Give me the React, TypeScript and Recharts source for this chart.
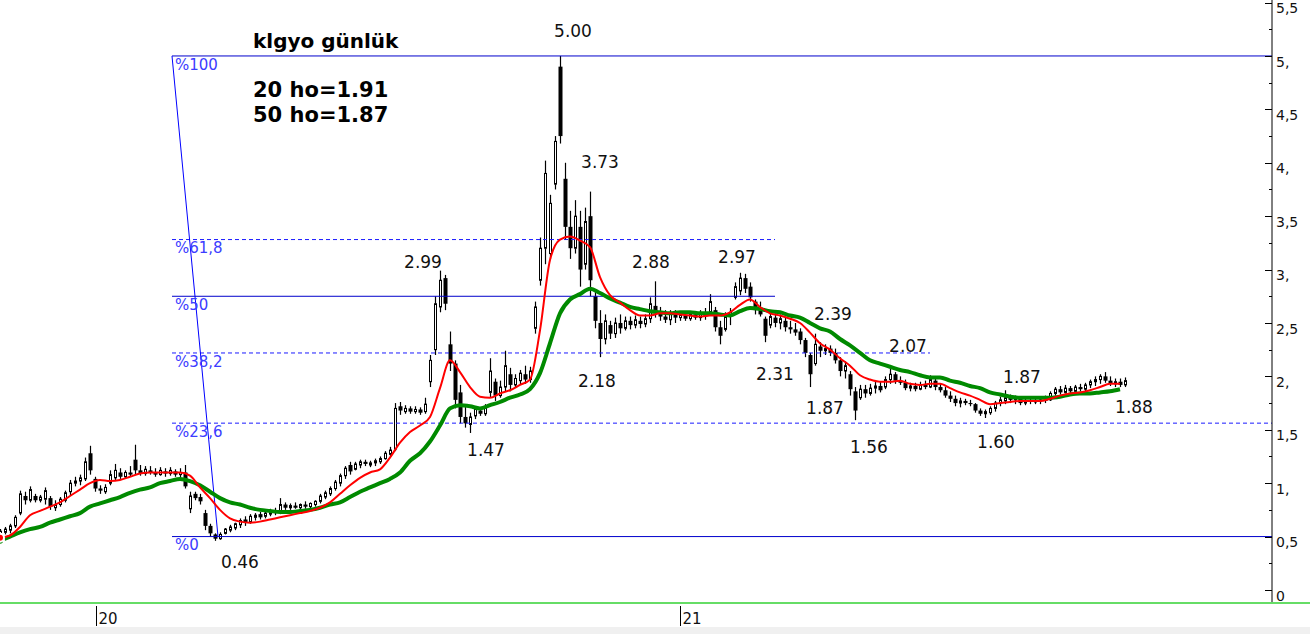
import React from 'react';
import { ComposedChart, Bar, Line, XAxis, YAxis, ReferenceLine, ReferenceDot } from 'recharts';

// ---- daily price bars (one bar per two sessions) ----
const lows = [
  0.50,0.52,0.53,0.58,0.70,0.80,0.82,0.82,0.82,0.80,
  0.75,0.74,0.78,0.82,0.88,0.97,0.98,1.02,1.08,0.92,
  0.90,0.90,0.98,1.03,1.04,1.04,1.06,1.08,1.07,1.07,
  1.08,1.06,1.07,1.06,1.07,1.06,1.05,0.95,0.72,0.84,
  0.80,0.56,0.50,0.46,0.47,0.52,0.54,0.56,0.58,0.60,
  0.62,0.65,0.66,0.67,0.69,0.70,0.71,0.75,0.75,0.76,
  0.75,0.76,0.76,0.78,0.81,0.85,0.88,0.93,0.97,1.04,
  1.08,1.12,1.14,1.16,1.15,1.16,1.18,1.22,1.25,1.30,
  1.64,1.65,1.65,1.65,1.64,1.65,1.90,2.20,2.60,2.62,
  2.05,1.70,1.56,1.52,1.47,1.60,1.63,1.63,1.80,1.77,
  1.80,1.86,1.86,1.90,1.92,1.93,1.94,2.40,2.85,3.05,
  3.10,3.75,4.18,3.28,3.10,3.15,2.84,3.00,2.75,2.45,
  2.18,2.30,2.35,2.36,2.40,2.43,2.44,2.45,2.45,2.46,
  2.50,2.55,2.52,2.50,2.48,2.50,2.52,2.52,2.52,2.53,
  2.52,2.53,2.58,2.42,2.30,2.42,2.48,2.72,2.76,2.78,
  2.70,2.58,2.56,2.32,2.45,2.46,2.44,2.42,2.40,2.38,
  2.30,2.18,1.90,2.10,2.18,2.20,2.19,2.12,2.00,1.98,
  1.82,1.59,1.78,1.80,1.82,1.84,1.85,1.88,1.93,1.93,
  1.92,1.87,1.86,1.86,1.87,1.88,1.89,1.87,1.85,1.80,
  1.76,1.72,1.71,1.73,1.72,1.66,1.63,1.61,1.64,1.67,
  1.72,1.74,1.75,1.74,1.73,1.73,1.74,1.74,1.74,1.75,
  1.77,1.82,1.83,1.84,1.84,1.85,1.86,1.86,1.89,1.91,
  1.93,1.94,1.91,1.90,1.90,1.90,
];
const highs = [
  0.57,0.59,0.62,0.70,0.93,0.92,0.97,0.90,0.89,0.96,
  0.88,0.84,0.87,0.93,1.03,1.06,1.08,1.24,1.35,1.06,
  0.98,0.99,1.12,1.18,1.14,1.12,1.16,1.36,1.17,1.16,
  1.16,1.14,1.15,1.14,1.15,1.13,1.14,1.17,0.92,0.92,
  0.90,0.75,0.62,0.53,0.54,0.58,0.61,0.63,0.67,0.69,
  0.71,0.72,0.73,0.74,0.76,0.77,0.86,0.82,0.81,0.82,
  0.81,0.83,0.82,0.84,0.90,0.93,0.97,1.03,1.09,1.16,
  1.20,1.20,1.22,1.22,1.21,1.23,1.25,1.30,1.34,1.75,
  1.76,1.73,1.72,1.72,1.71,1.80,2.20,2.75,2.99,2.95,
  2.42,2.15,1.92,1.72,1.66,1.72,1.71,1.74,2.17,1.98,
  1.96,2.24,2.08,2.02,2.06,2.10,2.09,2.70,3.30,4.02,
  3.70,4.25,5.00,4.00,3.55,3.65,3.55,3.58,3.73,2.80,
  2.62,2.58,2.52,2.55,2.58,2.56,2.56,2.57,2.56,2.58,
  2.74,2.89,2.65,2.62,2.62,2.62,2.60,2.60,2.61,2.61,
  2.62,2.64,2.77,2.65,2.52,2.60,2.64,2.88,2.97,2.96,
  2.88,2.72,2.70,2.56,2.60,2.59,2.58,2.55,2.52,2.50,
  2.45,2.36,2.22,2.40,2.32,2.30,2.29,2.26,2.18,2.14,
  2.05,1.90,1.92,1.92,1.93,1.95,1.95,2.00,2.07,2.04,
  2.00,1.97,1.94,1.94,1.95,1.96,2.01,1.98,1.93,1.90,
  1.86,1.82,1.80,1.79,1.78,1.75,1.70,1.69,1.72,1.77,
  1.81,1.87,1.83,1.82,1.80,1.79,1.80,1.79,1.81,1.82,
  1.86,1.90,1.91,1.92,1.91,1.92,1.93,1.94,1.97,2.00,
  2.02,2.04,2.00,1.98,1.98,1.99,
];
const opens = [
  0.52,0.54,0.56,0.60,0.72,0.88,0.84,0.88,0.84,0.85,
  0.86,0.77,0.80,0.84,0.92,1.00,1.02,1.04,1.28,1.04,
  0.95,0.92,1.00,1.05,1.10,1.06,1.10,1.22,1.12,1.09,
  1.12,1.10,1.08,1.11,1.09,1.11,1.08,1.10,0.76,0.90,
  0.87,0.72,0.60,0.52,0.48,0.53,0.56,0.58,0.61,0.66,
  0.64,0.68,0.71,0.69,0.71,0.74,0.73,0.80,0.77,0.79,
  0.77,0.80,0.78,0.80,0.83,0.87,0.90,0.95,1.00,1.07,
  1.17,1.13,1.17,1.20,1.17,1.19,1.20,1.23,1.27,1.32,
  1.72,1.67,1.70,1.67,1.69,1.67,1.95,2.25,2.65,2.92,
  2.30,2.12,1.85,1.62,1.55,1.63,1.68,1.65,1.85,1.95,
  1.82,1.90,2.02,1.92,1.96,2.02,1.97,2.45,2.90,3.20,
  3.15,3.80,4.90,3.85,3.40,3.20,3.40,3.05,3.50,2.75,
  2.50,2.35,2.48,2.40,2.50,2.45,2.52,2.48,2.52,2.49,
  2.54,2.66,2.60,2.56,2.53,2.58,2.55,2.57,2.54,2.58,
  2.55,2.59,2.60,2.62,2.46,2.44,2.56,2.74,2.80,2.92,
  2.84,2.70,2.62,2.54,2.48,2.55,2.50,2.52,2.46,2.44,
  2.42,2.34,2.20,2.12,2.28,2.24,2.26,2.22,2.15,2.05,
  2.02,1.86,1.80,1.88,1.84,1.89,1.91,1.90,1.97,2.02,
  1.96,1.94,1.89,1.91,1.88,1.92,1.90,1.96,1.90,1.87,
  1.82,1.79,1.75,1.77,1.75,1.74,1.68,1.65,1.66,1.70,
  1.75,1.77,1.80,1.78,1.79,1.75,1.77,1.76,1.77,1.78,
  1.78,1.84,1.88,1.85,1.89,1.86,1.90,1.88,1.92,1.95,
  1.97,2.00,1.96,1.93,1.95,1.92,
];
const closes = [
  0.55,0.57,0.60,0.68,0.90,0.84,0.94,0.84,0.87,0.93,
  0.78,0.80,0.85,0.91,1.00,1.02,1.05,1.20,1.12,0.95,
  0.93,0.96,1.08,1.12,1.06,1.10,1.08,1.12,1.09,1.13,
  1.10,1.08,1.12,1.09,1.12,1.08,1.10,0.97,0.88,0.86,
  0.83,0.60,0.53,0.48,0.52,0.57,0.59,0.62,0.65,0.63,
  0.69,0.70,0.68,0.72,0.74,0.72,0.80,0.77,0.79,0.77,
  0.80,0.78,0.81,0.83,0.88,0.91,0.95,1.01,1.07,1.14,
  1.11,1.18,1.20,1.18,1.19,1.21,1.23,1.28,1.31,1.70,
  1.68,1.70,1.67,1.69,1.66,1.74,2.15,2.68,2.90,2.68,
  2.12,1.78,1.62,1.56,1.62,1.69,1.65,1.70,2.05,1.82,
  1.90,2.10,1.92,1.98,2.03,1.97,2.05,2.65,3.20,3.90,
  3.62,4.20,4.25,3.40,3.20,3.50,3.00,3.45,2.90,2.52,
  2.35,2.52,2.40,2.50,2.45,2.52,2.48,2.53,2.49,2.54,
  2.68,2.60,2.56,2.53,2.58,2.55,2.57,2.54,2.58,2.55,
  2.59,2.56,2.70,2.46,2.38,2.56,2.60,2.84,2.92,2.82,
  2.74,2.62,2.58,2.38,2.56,2.50,2.54,2.46,2.44,2.41,
  2.34,2.22,2.02,2.30,2.24,2.26,2.22,2.15,2.05,2.10,
  1.88,1.68,1.88,1.84,1.89,1.91,1.87,1.97,2.02,1.96,
  1.94,1.89,1.91,1.88,1.92,1.90,1.97,1.90,1.87,1.82,
  1.79,1.75,1.77,1.75,1.74,1.68,1.65,1.67,1.70,1.75,
  1.78,1.80,1.78,1.79,1.75,1.77,1.76,1.77,1.78,1.77,
  1.84,1.88,1.85,1.89,1.86,1.90,1.88,1.92,1.95,1.97,
  2.00,1.96,1.93,1.95,1.92,1.96,
];

// ---- moving averages, sampled on every second bar ----
const ma20 = [
  0.49,0.51,0.59,0.70,0.74,0.78,0.82,0.88,0.94,1.00,
  1.03,1.02,1.03,1.06,1.09,1.10,1.10,1.10,1.10,1.07,
  0.96,0.86,0.75,0.67,0.64,0.63,0.64,0.66,0.68,0.70,
  0.72,0.74,0.77,0.82,0.90,0.98,1.05,1.10,1.13,1.24,
  1.38,1.48,1.54,1.62,1.89,2.15,2.04,1.90,1.81,1.80,
  1.84,1.87,1.92,1.97,2.43,3.09,3.28,3.31,3.27,3.21,
  2.93,2.76,2.69,2.62,2.57,2.57,2.59,2.59,2.58,2.57,
  2.56,2.57,2.57,2.60,2.67,2.72,2.65,2.59,2.57,2.54,
  2.50,2.41,2.31,2.25,2.17,2.10,2.01,1.97,1.95,1.95,
  1.96,1.93,1.92,1.93,1.93,1.89,1.85,1.82,1.78,1.74,
  1.75,1.76,1.77,1.77,1.77,1.79,1.82,1.84,1.85,1.87,
  1.90,1.93,1.93,
];
const ma50 = [
  0.46,0.50,0.54,0.57,0.59,0.63,0.66,0.69,0.72,0.78,
  0.81,0.84,0.87,0.91,0.94,0.96,1.00,1.02,1.04,1.02,
  0.98,0.92,0.86,0.82,0.80,0.77,0.75,0.74,0.73,0.73,
  0.74,0.75,0.77,0.80,0.82,0.87,0.92,0.96,1.00,1.04,
  1.10,1.21,1.28,1.39,1.54,1.70,1.73,1.72,1.70,1.73,
  1.76,1.80,1.83,1.88,2.03,2.31,2.59,2.72,2.77,2.82,
  2.78,2.73,2.69,2.65,2.63,2.61,2.60,2.59,2.60,2.60,
  2.59,2.59,2.58,2.57,2.61,2.64,2.63,2.61,2.60,2.57,
  2.55,2.50,2.45,2.42,2.35,2.29,2.22,2.15,2.12,2.09,
  2.06,2.04,2.01,1.99,1.99,1.96,1.94,1.91,1.89,1.85,
  1.83,1.81,1.80,1.80,1.80,1.80,1.81,1.83,1.84,1.84,
  1.85,1.86,1.88,
];

// ---- axis ticks ----
const yTicks = [0,0.25,0.5,0.75,1,1.25,1.5,1.75,2,2.25,2.5,2.75,3,3.25,3.5,3.75,4,4.25,4.5,4.75,5,5.25,5.5];
const yearTicks = [19.2, 136];
const yearLabels = ['20', '21'];

// ---- fibonacci retracement ----
const fibLow = 0.5;
const fibHigh = 5.0;
const fibPcts = [100, 61.8, 50, 38.2, 23.6, 0];
const fibLabels = ['%100', '%61,8', '%50', '%38,2', '%23,6', '%0'];

// ---- price annotations ----
const noteTexts = ['5.00','3.73','2.99','2.88','2.97','2.39','2.07','2.31','1.87','1.88','1.87','1.47','1.56','1.60','2.18','0.46'];

// layout (chart coordinates of the annotations / fib line extents)
const notePos = [
  [114.6,5.23],[120,4.01],[84.6,3.07],[130.2,3.07],[147.4,3.12],[166.6,2.58],[181.6,2.28],[155,2.02],
  [204.4,1.99],[226.8,1.71],[165,1.70],[97.2,1.31],[173.8,1.34],[199.2,1.39],[119.4,1.96],[48,0.26],
];
const fibStart = 34.4;
const fibEnds = [254.4, 155, 155, 186, 254.4, 254.4];
const fibDashed = [false, true, false, true, true, false];

const FONT = 'DejaVu Sans, Verdana, sans-serif';
const W = 1310;
const H = 634;
const X_MAX = 254.4;

const data = lows.map((lo, k) => ({
  k,
  lo,
  hi: highs[k],
  o: opens[k],
  c: closes[k],
  ma20: k % 2 === 0 ? ma20[k / 2] : undefined,
  ma50: k % 2 === 0 ? ma50[k / 2] : undefined,
}));

const Candle = (props: any) => {
  const { x, y, width, height, payload } = props;
  if (x == null || y == null || !payload) return null;
  const { lo, hi, o, c } = payload;
  const top = Math.min(y, y + height);
  const h = Math.abs(height);
  const s = hi - lo > 0 ? h / (hi - lo) : 0;
  const cx = Math.round(x + width / 2) + 0.5;
  const yo = top + (hi - o) * s;
  const yc = top + (hi - c) * s;
  const bt = Math.min(yo, yc);
  const bh = Math.max(1, Math.abs(yc - yo));
  const up = c > o;
  return (
    <g>
      <line x1={cx} x2={cx} y1={top} y2={top + Math.max(h, 1)} stroke="#000" strokeWidth={1.2} />
      {up ? (
        <rect x={cx - 1} y={bt} width={2} height={bh} fill="#fff" stroke="#000" strokeWidth={1} />
      ) : (
        <rect x={cx - 2} y={bt} width={4} height={bh} fill="#000" />
      )}
    </g>
  );
};

const fmtY = (v: number) => {
  if (v === 0) return '0';
  const whole = Math.floor(v + 1e-9);
  const half = Math.abs(v - whole - 0.5) < 1e-6;
  return half ? `${whole},5` : `${whole},`;
};

const YTick = (props: any) => {
  const { x, y, payload } = props;
  const v = payload.value;
  const major = Math.abs(v * 2 - Math.round(v * 2)) < 1e-6;
  const ax = x;
  return (
    <g>
      <line x1={ax - (major ? 7 : 3)} x2={ax} y1={Math.round(y) + 0.5} y2={Math.round(y) + 0.5} stroke="#000" />
      {major && (
        <text x={ax + 4} y={y} dy="0.76em" fontSize={14} fontFamily={FONT} fill="#111">
          {fmtY(v)}
        </text>
      )}
    </g>
  );
};

const XTick = (props: any) => {
  const { x, y, payload, index } = props;
  const px = Math.round(x) + 0.5;
  return (
    <g>
      <line x1={px} x2={px} y1={y + 3} y2={y + 23} stroke="#000" />
      <text x={px + 2} y={y + 21} fontSize={15} fontFamily={FONT} fill="#111">
        {yearLabels[index] ?? String(payload.value)}
      </text>
    </g>
  );
};

export default function App() {
  return (
    <div style={{ position: 'absolute', left: 0, top: 0, width: W, height: H, background: '#fff', overflow: 'hidden' }}>
      <ComposedChart width={W} height={H} data={data} margin={{ top: 0, right: 0, bottom: 0, left: 0 }}>
        <XAxis
          dataKey="k"
          type="number"
          domain={[0, X_MAX]}
          allowDataOverflow
          ticks={yearTicks}
          interval={0}
          height={31}
          axisLine={false}
          tickLine={false}
          tickSize={0}
          tickMargin={0}
          tick={<XTick />}
        />
        <YAxis
          orientation="right"
          type="number"
          domain={[-0.122, 5.524]}
          allowDataOverflow
          ticks={yTicks}
          interval={0}
          width={38}
          axisLine={{ stroke: '#000' }}
          tickLine={false}
          tickSize={0}
          tickMargin={0}
          tick={<YTick />}
        />
        {fibPcts.map((p, i) => {
          const lvl = fibLow + (p / 100) * (fibHigh - fibLow);
          return (
            <ReferenceLine
              key={'fib' + i}
              segment={[{ x: fibStart, y: lvl }, { x: fibEnds[i], y: lvl }]}
              stroke={fibDashed[i] ? '#1a1aff' : '#0000cc'}
              strokeWidth={1}
              strokeDasharray={fibDashed[i] ? '4 3' : undefined}
              ifOverflow="visible"
              label={{ value: fibLabels[i], position: 'insideTopLeft', offset: 3, fill: '#3c3cff', fontSize: 15, fontFamily: FONT }}
            />
          );
        })}
        <ReferenceLine
          segment={[{ x: fibStart, y: fibHigh }, { x: 43.6, y: fibLow }]}
          stroke="#0000ff"
          strokeWidth={1}
          ifOverflow="visible"
        />
        <Bar dataKey={(d: any) => [d.lo, d.hi]} barSize={3} shape={<Candle />} isAnimationActive={false} />
        <Line dataKey="ma50" type="monotone" stroke="#008a00" strokeWidth={4} dot={false} connectNulls isAnimationActive={false} />
        <Line dataKey="ma20" type="monotone" stroke="#ff0000" strokeWidth={2} dot={false} connectNulls isAnimationActive={false} />
        {noteTexts.map((t, i) => (
          <ReferenceDot
            key={'n' + i}
            x={notePos[i][0]}
            y={notePos[i][1]}
            r={0}
            fill="none"
            stroke="none"
            ifOverflow="visible"
            label={{ value: t, position: 'center', fill: '#111', fontSize: 17, fontFamily: FONT }}
          />
        ))}
      </ComposedChart>
      <svg width={W} height={H} style={{ position: 'absolute', left: 0, top: 0, pointerEvents: 'none' }}>
        <rect x={0} y={627} width={W} height={7} fill="#f0f0f0" />
        <rect x={0} y={602} width={W} height={2} fill="#66dd66" />
        <text x={253} y={48} fontSize={20} fontWeight="bold" fontFamily={FONT} fill="#000">klgyo günlük</text>
        <text x={253} y={97} fontSize={21} fontWeight="bold" fontFamily={FONT} fill="#000">20 ho=1.91</text>
        <text x={253} y={122} fontSize={21} fontWeight="bold" fontFamily={FONT} fill="#000">50 ho=1.87</text>
      </svg>
    </div>
  );
}
